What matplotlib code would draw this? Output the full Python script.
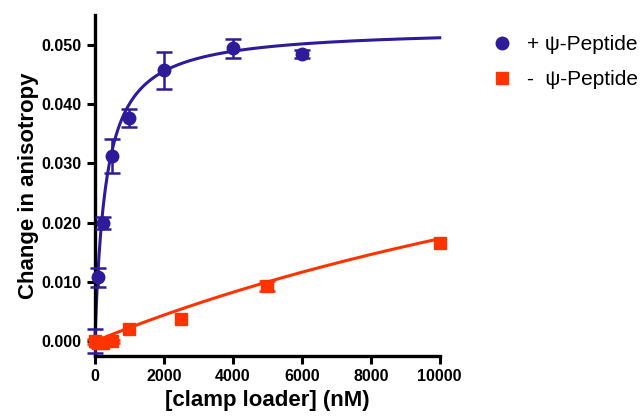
import numpy as np
import matplotlib
matplotlib.use("Agg")
import matplotlib.pyplot as plt
from matplotlib.lines import Line2D

plt.rcParams['font.family'] = ['Liberation Sans', 'DejaVu Sans']

# + psi-peptide
plus_x = [0, 100, 250, 500, 1000, 2000, 4000, 6000]
plus_y = [0.0000, 0.0108, 0.0200, 0.0312, 0.0377, 0.0457, 0.0494, 0.0484]
plus_err = [0.0020, 0.0016, 0.0010, 0.0029, 0.0015, 0.0031, 0.0016, 0.0007]
plus_bmax, plus_kd = 0.0528, 320.0

# - psi-peptide
minus_x = [0, 100, 250, 500, 1000, 2500, 5000, 10000]
minus_y = [0.0000, -0.0003, -0.0003, 0.0000, 0.0020, 0.0037, 0.0093, 0.0166]
minus_err = [0.0004, 0.0006, 0.0005, 0.0003, 0.0, 0.0, 0.0009, 0.0]
minus_bmax, minus_kd = 0.0640, 27000.0

blue = "#2D1B99"
red = "#FF3300"

fig = plt.figure(figsize=(6.41, 4.17), dpi=100)
ax = fig.add_axes([0.148, 0.146, 0.538, 0.818])

xf = np.linspace(0, 10000, 500)
ax.plot(xf, plus_bmax * xf / (plus_kd + xf), color=blue, lw=2.2, clip_on=False)
ax.plot(xf, minus_bmax * xf / (minus_kd + xf), color=red, lw=2.2, clip_on=False)


def points(x, y, err, marker, color, ms, z):
    x, y, err = np.array(x), np.array(y), np.array(err)
    has = err > 0
    ax.errorbar(x[has], y[has], yerr=err[has], fmt='none', ecolor=color,
                capsize=6, elinewidth=1.8, capthick=1.8, clip_on=False, zorder=z)
    ax.plot(x, y, ls='none', marker=marker, color=color, ms=ms,
            clip_on=False, zorder=z)


points(plus_x, plus_y, plus_err, 'o', blue, 9, 3)
points(minus_x, minus_y, minus_err, 's', red, 8.5, 4)

ax.set_xlim(0, 10000)
ax.set_ylim(-0.0025, 0.055)
ax.set_xticks([0, 2000, 4000, 6000, 8000, 10000])
ax.set_yticks([0.0, 0.01, 0.02, 0.03, 0.04, 0.05])
ax.set_yticklabels([f"{v:.3f}" for v in [0.0, 0.01, 0.02, 0.03, 0.04, 0.05]])
for s in ['top', 'right']:
    ax.spines[s].set_visible(False)
for s in ['left', 'bottom']:
    ax.spines[s].set_linewidth(2.4)
ax.tick_params(width=2.2, length=6, labelsize=11.5)
for lab in ax.get_xticklabels() + ax.get_yticklabels():
    lab.set_fontweight('bold')

ax.set_xlabel("[clamp loader] (nM)", fontsize=16, fontweight='bold', labelpad=4)
ax.set_ylabel("Change in anisotropy", fontsize=16, fontweight='bold', labelpad=2)

handles = [Line2D([], [], ls='none', marker='o', color=blue, ms=9),
           Line2D([], [], ls='none', marker='s', color=red, ms=8)]
fig.legend(handles, ["+ ψ-Peptide", "-  ψ-Peptide"], loc='upper left',
           bbox_to_anchor=(0.735, 0.96), frameon=False, fontsize=15,
           handletextpad=0.6, labelspacing=0.75, handlelength=1.2)

fig.savefig("out.png", dpi=100)
